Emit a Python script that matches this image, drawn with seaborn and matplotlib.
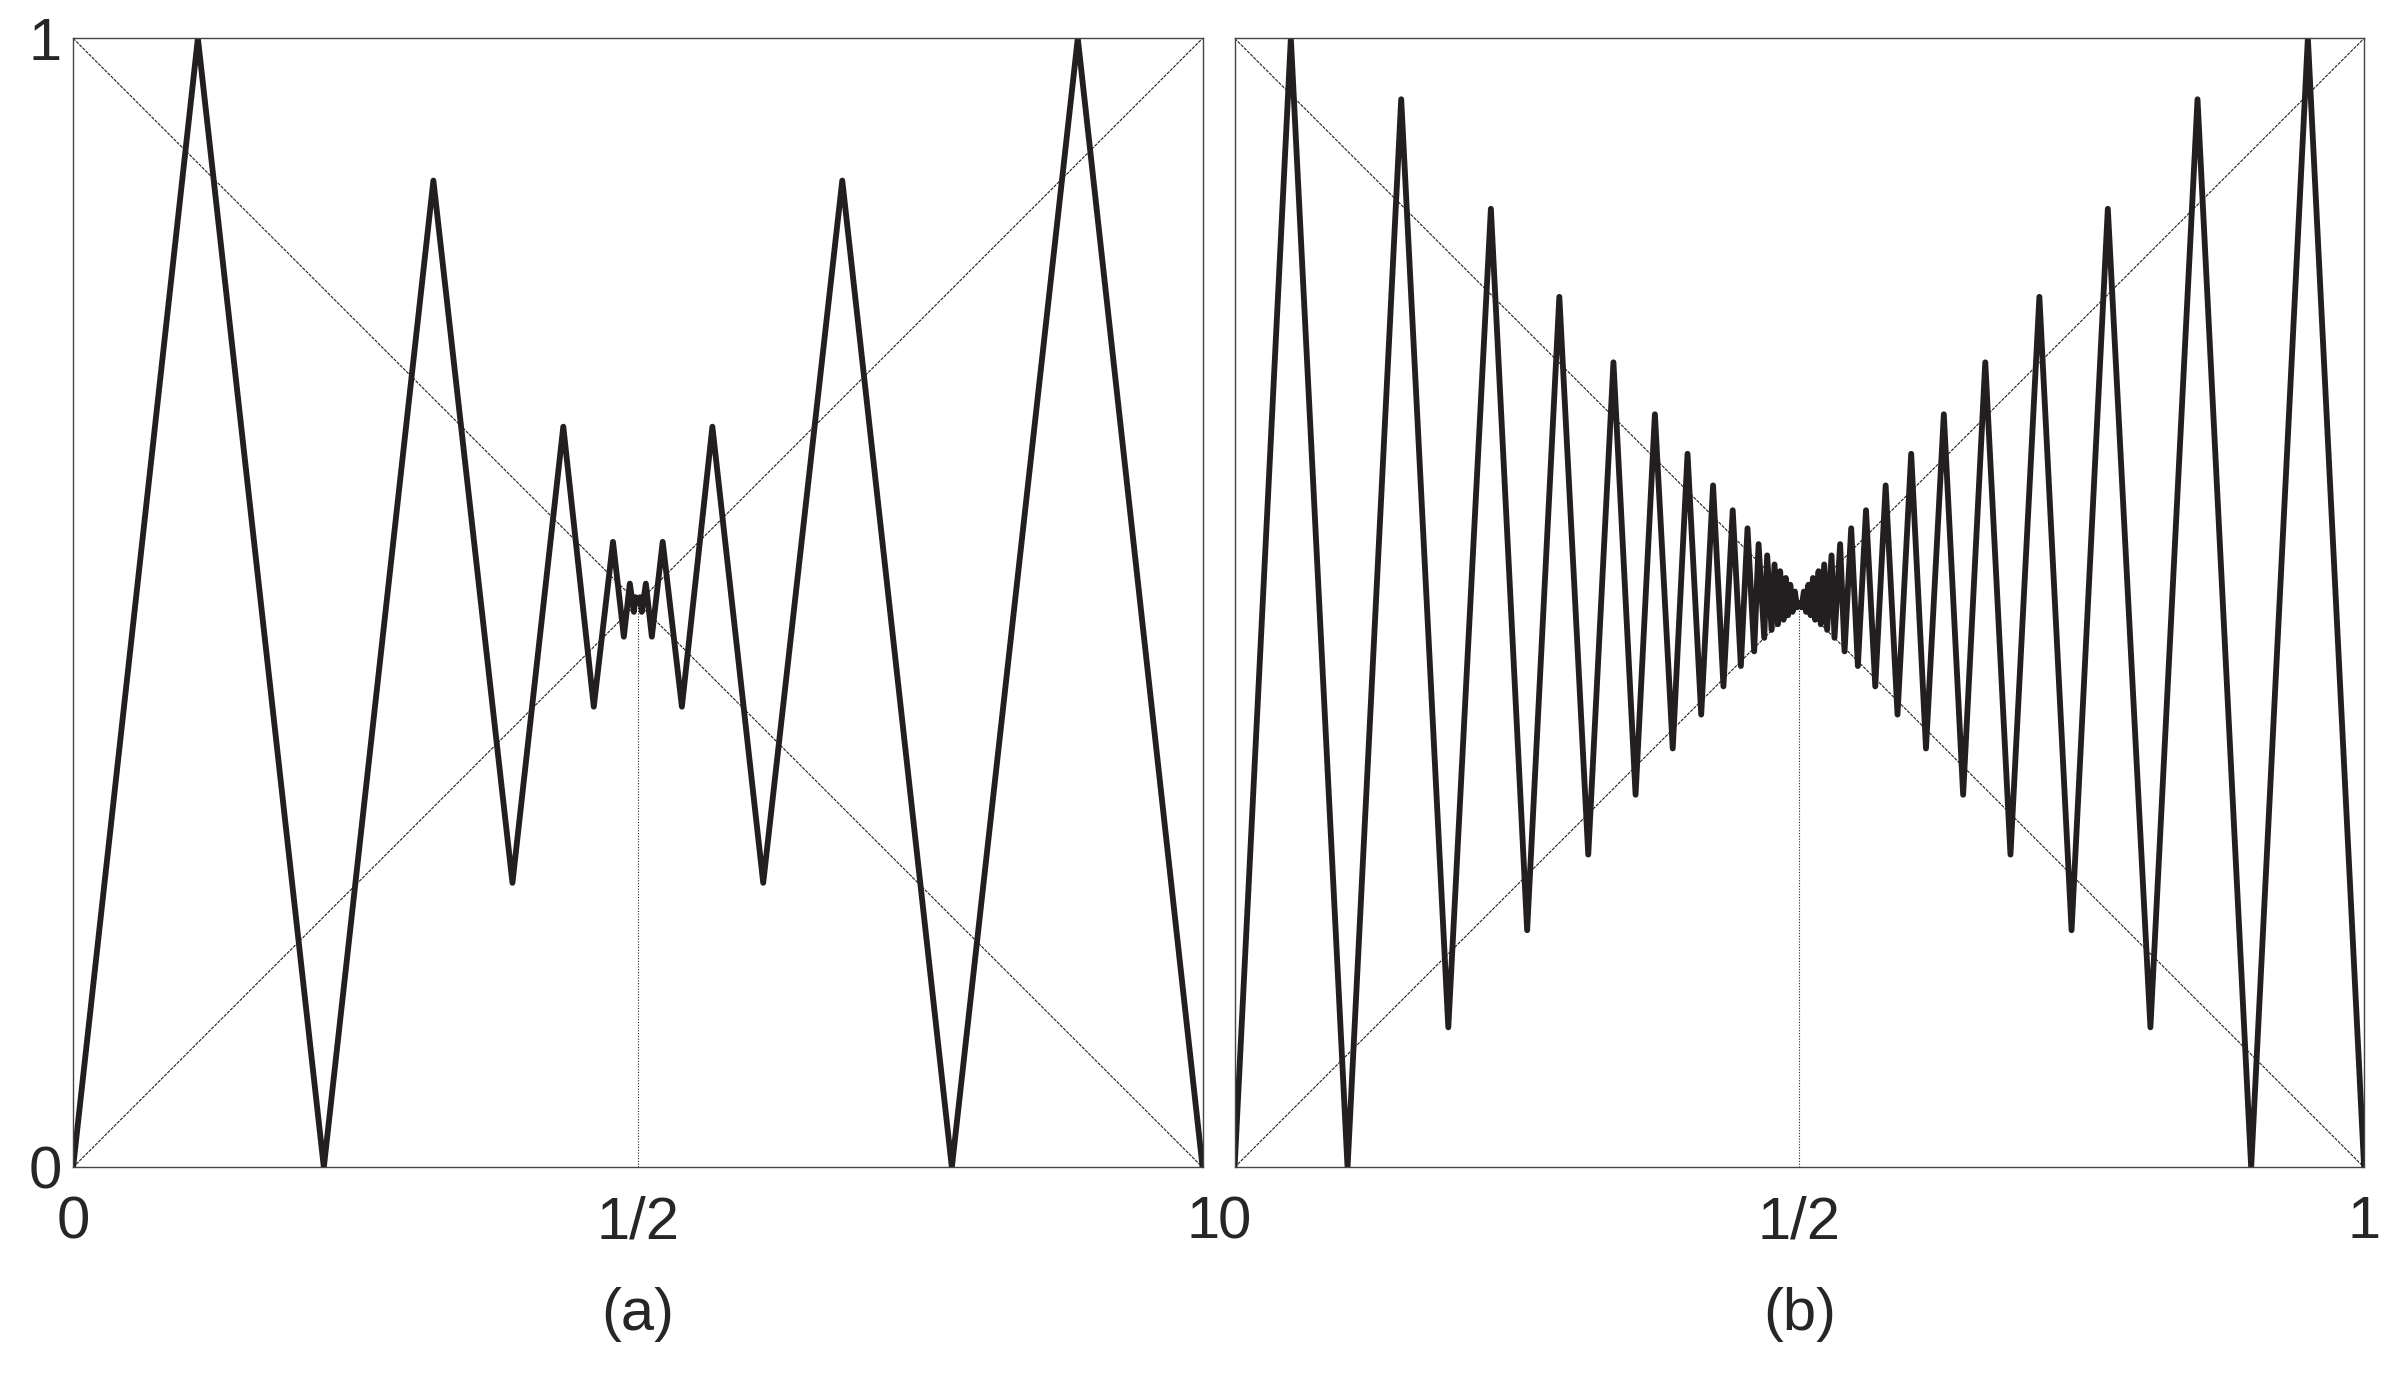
import matplotlib
matplotlib.use("Agg")
import matplotlib.pyplot as plt
import seaborn as sns
import numpy as np
import pandas as pd

sns.set_theme(style="white")
plt.rcParams['font.family'] = ['Liberation Sans', 'DejaVu Sans']

# Panel (a): left half vertices (mirrored about x=1/2)
a_x = [0.0, 0.1105, 0.222, 0.319, 0.389, 0.434, 0.461, 0.478, 0.4876, 0.4929, 0.4965, 0.498, 0.5]
a_y = [0.0, 1.0, 0.0, 0.874, 0.252, 0.656, 0.408, 0.554, 0.470, 0.517, 0.492, 0.505, 0.5]

# Panel (b): left half vertices (mirrored about x=1/2)
b_x = [0.0, 0.0498, 0.100, 0.1475, 0.1892, 0.2269, 0.259, 0.2875, 0.3131, 0.3354, 0.355,
       0.3721, 0.3879, 0.4010, 0.4131, 0.4236, 0.4328, 0.4410, 0.4482, 0.4541, 0.460,
       0.4639, 0.4689, 0.4715, 0.4754, 0.478, 0.481, 0.483, 0.486, 0.488, 0.490, 0.492,
       0.494, 0.496, 0.498, 0.5]
b_y = [0.0, 1.0, 0.0, 0.946, 0.124, 0.849, 0.210, 0.771, 0.277, 0.713, 0.330,
       0.667, 0.371, 0.632, 0.401, 0.604, 0.426, 0.582, 0.444, 0.566, 0.457,
       0.552, 0.469, 0.542, 0.476, 0.534, 0.481, 0.528, 0.485, 0.522, 0.489, 0.516,
       0.492, 0.510, 0.496, 0.5]

x_ticks = [0, 0.5, 1]
x_labels = ["0", "1/2", "1"]
y_ticks = [0, 1]
y_labels = ["0", "1"]
captions = ["(a)", "(b)"]

def full(xs, ys):
    xs = np.array(xs); ys = np.array(ys)
    fx = np.concatenate([xs, (1 - xs[::-1])[1:]])
    fy = np.concatenate([ys, ys[::-1][1:]])
    return pd.DataFrame({"x": fx, "y": fy})

fig = plt.figure(figsize=(23.88, 13.98), dpi=100)
ax_a = fig.add_axes([0.0306, 0.165, 0.473, 0.8076])
ax_b = fig.add_axes([0.517, 0.165, 0.473, 0.8076])

for ax, (xs, ys), cap in [(ax_a, (a_x, a_y), captions[0]), (ax_b, (b_x, b_y), captions[1])]:
    ax.plot([0, 1], [0, 1], color="#222222", lw=0.8, ls=(0, (3, 1)))
    ax.plot([0, 1], [1, 0], color="#222222", lw=0.8, ls=(0, (3, 1)))
    ax.plot([0.5, 0.5], [0, 0.5], color="#222222", lw=0.8, ls=(0, (1, 1.5)))
    df = full(xs, ys)
    sns.lineplot(data=df, x="x", y="y", sort=False, estimator=None, ax=ax,
                 color="#231f20", lw=4.2)
    ax.set_xlim(0, 1)
    ax.set_ylim(0, 1)
    ax.set_xlabel("")
    ax.set_ylabel("")
    ax.set_xticks(x_ticks)
    ax.set_xticklabels(x_labels, fontsize=43)
    ax.tick_params(axis="x", length=0, pad=20)
    ax.tick_params(axis="y", length=0, pad=8)
    for s in ax.spines.values():
        s.set_color("#444444")
        s.set_linewidth(1.0)
    ax.text(0.5, -0.13, cap, transform=ax.transAxes, ha="center", va="center", fontsize=43)

ax_a.set_yticks(y_ticks)
ax_a.set_yticklabels(y_labels, fontsize=43)
ax_b.set_yticks([])

fig.savefig("out.png", dpi=100)
